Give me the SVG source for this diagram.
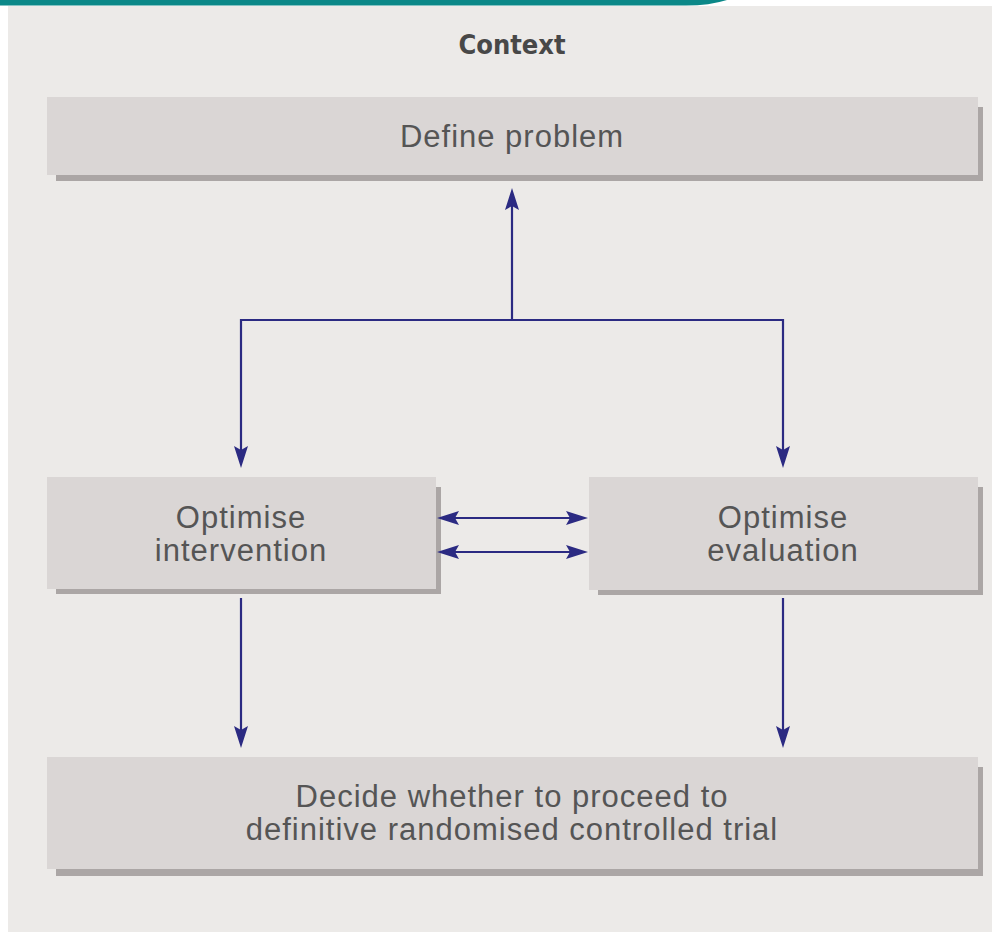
<svg xmlns="http://www.w3.org/2000/svg" width="992" height="932" viewBox="0 0 992 932">
<defs>
<style>
.box{fill:#DAD6D5}
.shd{fill:#ABA6A5}
.lbl{font-family:"Liberation Sans",Arial,sans-serif;font-size:31px;letter-spacing:1px;fill:#555555;text-anchor:middle}
.ttl{font-family:"DejaVu Sans Condensed","DejaVu Sans",sans-serif;font-stretch:condensed;font-weight:bold;font-size:27px;fill:#484848;text-anchor:middle}
.con{fill:none;stroke:#2B2A82;stroke-width:2.2}
</style>
<marker id="ah" viewBox="0 0 22 14" refX="12" refY="7" markerWidth="22" markerHeight="14" markerUnits="userSpaceOnUse" orient="auto-start-reverse">
<path d="M0,0 L22,7 L0,14 L4,7 Z" fill="#2B2A82"/>
</marker>
</defs>
<rect x="0" y="0" width="992" height="932" fill="#FFFFFF"/>
<rect x="8" y="6" width="984" height="926" fill="#ECEAE8"/>
<path d="M0,0 H727 Q708,6 682,5.5 H0 Z" fill="#0B8888"/>
<text class="ttl" x="512" y="54">Context</text>
<g id="define">
<rect class="shd" x="56" y="107" width="927" height="74"/>
<rect class="box" x="47" y="97" width="931" height="78"/>
<text class="lbl" x="512" y="147">Define problem</text>
</g>
<g id="intervention">
<rect class="shd" x="56" y="487" width="385" height="107"/>
<rect class="box" x="47" y="477" width="389" height="112"/>
<text class="lbl" x="241" y="528">Optimise</text>
<text class="lbl" x="241" y="561">intervention</text>
</g>
<g id="evaluation">
<rect class="shd" x="598" y="487" width="385" height="108"/>
<rect class="box" x="589" y="477" width="389" height="113"/>
<text class="lbl" x="783" y="528">Optimise</text>
<text class="lbl" x="783" y="561">evaluation</text>
</g>
<g id="decide">
<rect class="shd" x="56" y="767" width="927" height="109"/>
<rect class="box" x="47" y="757" width="931" height="112"/>
<text class="lbl" x="512" y="807">Decide whether to proceed to</text>
<text class="lbl" x="512" y="840">definitive randomised controlled trial</text>
</g>
<g id="connectors">
<path class="con" d="M512,320 V198" marker-end="url(#ah)"/>
<path class="con" d="M241,458 V320 H783 V458" marker-start="url(#ah)" marker-end="url(#ah)"/>
<path class="con" d="M447,518 H578" marker-start="url(#ah)" marker-end="url(#ah)"/>
<path class="con" d="M447,552 H578" marker-start="url(#ah)" marker-end="url(#ah)"/>
<path class="con" d="M241,598 V738" marker-end="url(#ah)"/>
<path class="con" d="M783,598 V738" marker-end="url(#ah)"/>
</g>
</svg>
